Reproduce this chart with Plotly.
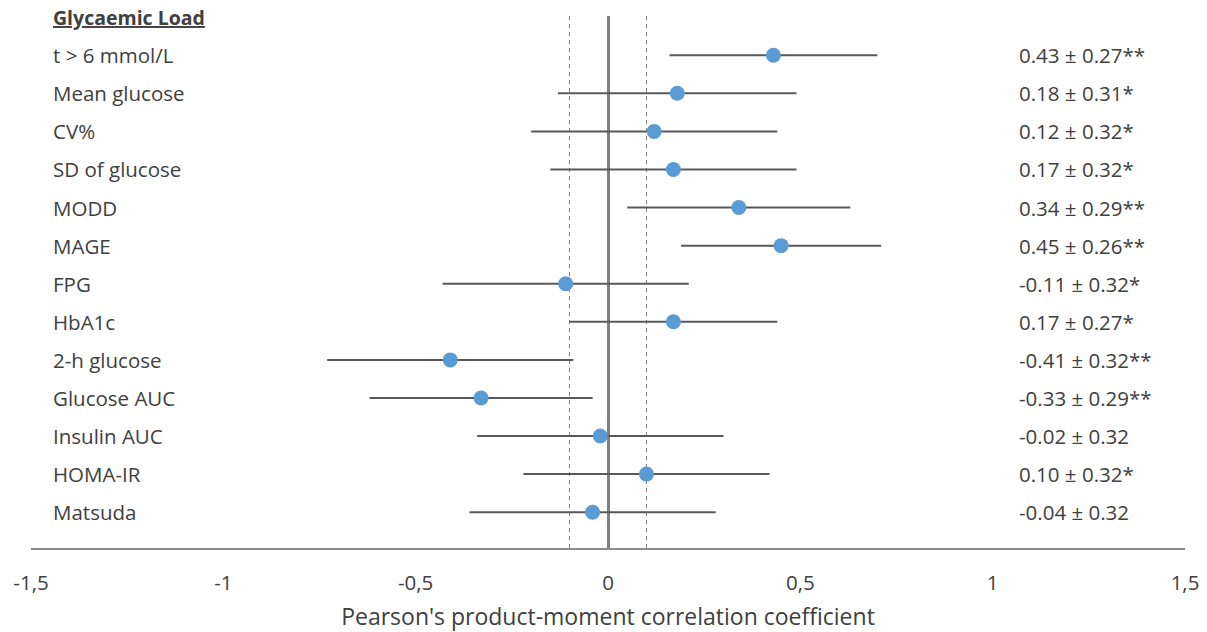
import plotly.graph_objects as go

title_label = "Glycaemic Load"
categories = ["t > 6 mmol/L", "Mean glucose", "CV%", "SD of glucose", "MODD", "MAGE",
              "FPG", "HbA1c", "2-h glucose", "Glucose AUC", "Insulin AUC", "HOMA-IR", "Matsuda"]
r_values = [0.43, 0.18, 0.12, 0.17, 0.34, 0.45, -0.11, 0.17, -0.41, -0.33, -0.02, 0.10, -0.04]
r_err = [0.27, 0.31, 0.32, 0.32, 0.29, 0.26, 0.32, 0.27, 0.32, 0.29, 0.32, 0.32, 0.32]
signif = ["**", "*", "*", "*", "**", "**", "*", "*", "**", "**", "", "*", ""]
tick_vals = [-1.5, -1, -0.5, 0, 0.5, 1, 1.5]
tick_text = ["-1,5", "-1", "-0,5", "0", "0,5", "1", "1,5"]
ref_lines = [-0.1, 0.1]

FONT = "'Open Sans', Calibri, sans-serif"
TXT = "#404040"
FS = 20.5
rows = list(range(1, len(categories) + 1))

fig = go.Figure()
fig.add_trace(go.Scatter(
    x=r_values, y=rows, mode="markers",
    marker=dict(size=15, color="#5B9BD5"),
    error_x=dict(type="data", array=r_err, symmetric=True, width=0,
                 thickness=2, color="#595959"),
    showlegend=False, hoverinfo="skip"))

for xv in ref_lines:
    fig.add_shape(type="line", x0=xv, x1=xv, y0=0, y1=1, xref="x", yref="paper",
                  line=dict(color="#7f7f7f", width=1, dash="4px,4px"), layer="below")

anns = [dict(x=-1.448, y=0, xref="x", yref="y", text="<u><b>" + title_label + "</b></u>",
             showarrow=False, xanchor="left", yanchor="middle",
             font=dict(family=FONT, size=FS - 1, color=TXT))]
for i, (c, v, e, s) in enumerate(zip(categories, r_values, r_err, signif)):
    anns.append(dict(x=-1.448, y=rows[i], xref="x", yref="y", text=c, showarrow=False,
                     xanchor="left", yanchor="middle", font=dict(family=FONT, size=FS, color=TXT)))
    anns.append(dict(x=1.064, y=rows[i], xref="x", yref="y",
                     text=f"{v:.2f} ± {e:.2f}{s}", showarrow=False,
                     xanchor="left", yanchor="middle", font=dict(family=FONT, size=FS, color=TXT)))
fig.update_layout(annotations=anns)

fig.update_layout(
    width=1207, height=632,
    margin=dict(l=31, r=22, t=16, b=84),
    paper_bgcolor="white", plot_bgcolor="white",
    xaxis=dict(range=[-1.5, 1.5], tickvals=tick_vals, ticktext=tick_text,
               showgrid=False, zeroline=True, zerolinecolor="#808080", zerolinewidth=2.5,
               showline=True, linecolor="#8c8c8c", linewidth=2, ticks="",
               ticklabelstandoff=15, automargin=False,
               tickfont=dict(family=FONT, size=FS, color=TXT),
               title=dict(text="Pearson's product-moment correlation coefficient",
                          font=dict(family=FONT, size=23, color=TXT), standoff=19)),
    yaxis=dict(range=[13.94, -0.03], visible=False, showgrid=False, zeroline=False,
               automargin=False),
)

fig.write_html("out.html")
